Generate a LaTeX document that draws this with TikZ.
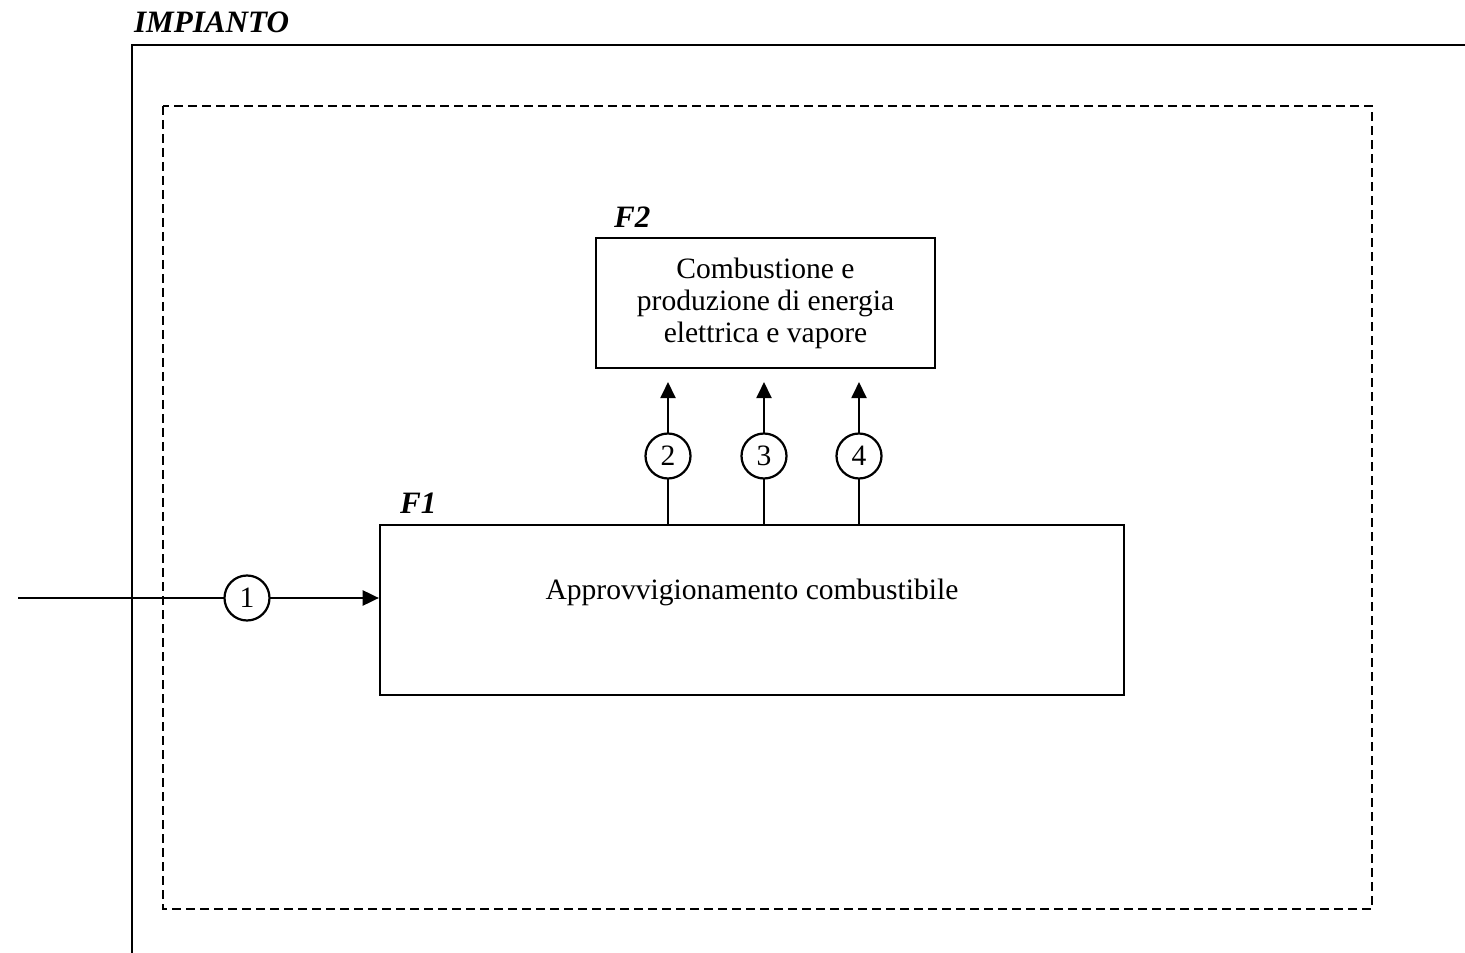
\documentclass[tikz,border=0pt]{standalone}
\usepackage{fontspec}
\setmainfont{Liberation Serif}
\usetikzlibrary{arrows.meta}
\begin{document}
\begin{tikzpicture}[x=0.45pt,y=-0.45pt,line width=1pt,
    font=\fontsize{13.3}{14.4}\selectfont,
    box/.style={draw,rectangle,align=center,inner sep=0pt},
    num/.style={draw,circle,fill=white,minimum size=20.25pt,inner sep=0pt},
    flow/.style={-{Triangle[length=7.3pt,width=6.8pt]}},
    tag/.style={font=\fontsize{14}{14.4}\selectfont\bfseries\itshape,anchor=base west,inner sep=0pt}]
  \useasboundingbox (0,0) rectangle (1465,953);
  % plant boundary and functional area
  \draw (132,953) -- (132,45) -- (1465,45);
  \node[tag] (impianto) at (133,33) {IMPIANTO};
  \draw[dash pattern=on 4pt off 2.3pt] (163,106) rectangle (1372,909);
  % functions
  \node[box,minimum width=152.6pt,minimum height=58.5pt] (f2) at (765.5,303)
    {Combustione e\\produzione di energia\\elettrica e vapore};
  \node[tag] (f2tag) at (613,228) {F2};
  \node[box,minimum width=334.8pt,minimum height=76.5pt] (f1) at (752,610) {};
  \node (f1text) at (752,592) {Approvvigionamento combustibile};
  \node[tag] (f1tag) at (399,514) {F1};
  % flows
  \coordinate (in) at (18,598);
  \draw[flow] (in) -- (f1.west |- in);
  \node[num] (c1) at (247,598) {1};
  \foreach \i/\x in {2/668,3/764,4/859} {
    \coordinate (t\i) at (\x,382);
    \draw[flow] (t\i |- f1.north) -- (t\i);
    \node[num] (c\i) at (\x,456) {\i};
  }
\end{tikzpicture}
\end{document}
